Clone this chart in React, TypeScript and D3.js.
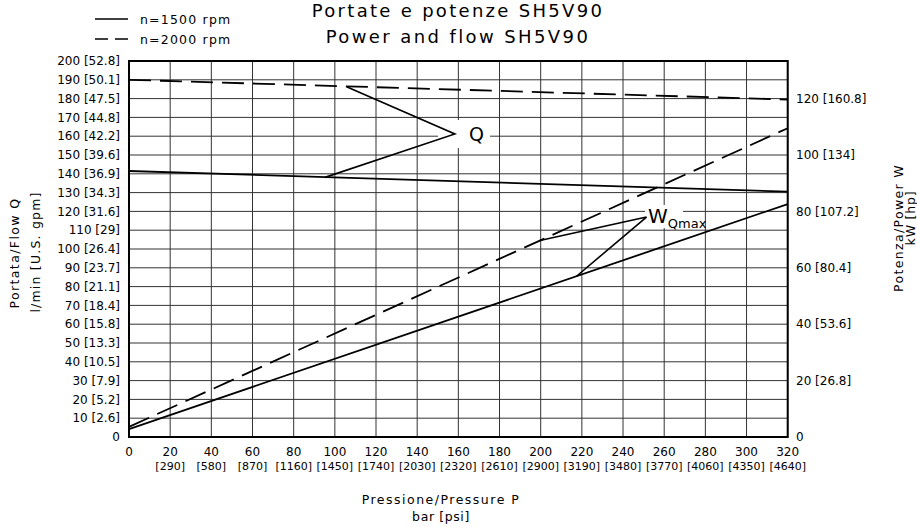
import React from 'react';
import * as d3 from 'd3';

// axis ticks
const pressureTicks = [0, 20, 40, 60, 80, 100, 120, 140, 160, 180, 200, 220, 240, 260, 280, 300, 320];
const psiLabels = ['', '[290]', '[580]', '[870]', '[1160]', '[1450]', '[1740]', '[2030]', '[2320]', '[2610]', '[2900]', '[3190]', '[3480]', '[3770]', '[4060]', '[4350]', '[4640]'];
const flowTicks = [0, 10, 20, 30, 40, 50, 60, 70, 80, 90, 100, 110, 120, 130, 140, 150, 160, 170, 180, 190, 200];
const gpmLabels = ['', '[2.6]', '[5.2]', '[7.9]', '[10.5]', '[13.3]', '[15.8]', '[18.4]', '[21.1]', '[23.7]', '[26.4]', '[29]', '[31.6]', '[34.3]', '[36.9]', '[39.6]', '[42.2]', '[44.8]', '[47.5]', '[50.1]', '[52.8]'];
const powerTicks = [0, 20, 40, 60, 80, 100, 120];
const hpLabels = ['', '[26.8]', '[53.6]', '[80.4]', '[107.2]', '[134]', '[160.8]'];

// curves (bar -> l/min, kW)
const pressure = [0, 320];
const flow1500 = [141.5, 130.5];
const flow2000 = [190, 179.5];
const power1500 = [2.8, 82.6];
const power2000 = [3.6, 109.5];

// leader lines for the labels
const qLeaderP = [105.7, 158.3, 95.2];
const qLeaderQ = [186.3, 161.2, 138.1];
const wLeaderP = [199.6, 251.4, 217.4];
const wLeaderW = [69.7, 78, 57];

const W = 917;
const H = 527;
const font = '"DejaVu Sans", sans-serif';

const App: React.FC = () => {
  const x = d3.scaleLinear().domain([0, 320]).range([129, 787.7]);
  const yQ = d3.scaleLinear().domain([0, 200]).range([437, 61]);
  const yW = d3.scaleLinear().domain([0, 400 / 3]).range([437, 61]);

  const lineQ = d3.line<number>().x((_, i) => x(pressure[i])).y((d) => yQ(d));
  const lineW = d3.line<number>().x((_, i) => x(pressure[i])).y((d) => yW(d));
  const qLeader = d3.line<number>().x((d) => x(d)).y((_, i) => yQ(qLeaderQ[i]))(qLeaderP) || '';
  const wLeader = d3.line<number>().x((d) => x(d)).y((_, i) => yW(wLeaderW[i]))(wLeaderP) || '';

  const [x0, x1] = x.range();
  const [yb, yt] = yQ.range();
  const dash = '22 9';

  return (
    <svg width={W} height={H} style={{ position: 'absolute', left: 0, top: 0, background: '#fff' }} fontFamily={font}>
      {/* title */}
      <text x={458} y={17} textAnchor="middle" fontSize={18} letterSpacing={2.3}>Portate e potenze SH5V90</text>
      <text x={458} y={43} textAnchor="middle" fontSize={18} letterSpacing={2.4}>Power and flow SH5V90</text>

      {/* legend */}
      <line x1={95} x2={128} y1={19} y2={19} stroke="#000" strokeWidth={1.5} />
      <text x={140} y={24} fontSize={12.5} letterSpacing={1.2}>n=1500  rpm</text>
      <line x1={95} x2={128} y1={39} y2={39} stroke="#000" strokeWidth={1.5} strokeDasharray="13 7" />
      <text x={140} y={44} fontSize={12.5} letterSpacing={1.2}>n=2000  rpm</text>

      {/* grid */}
      <g stroke="#333" strokeWidth={1}>
        {pressureTicks.map((p) => (
          <line key={'v' + p} x1={x(p)} x2={x(p)} y1={yt} y2={yb} />
        ))}
        {flowTicks.map((q) => (
          <line key={'h' + q} x1={x0} x2={x1} y1={yQ(q)} y2={yQ(q)} />
        ))}
      </g>

      {/* curves */}
      <g fill="none" stroke="#000" strokeWidth={1.8}>
        <path d={lineQ(flow1500) || ''} />
        <path d={lineQ(flow2000) || ''} strokeDasharray={dash} />
        <path d={lineW(power1500) || ''} />
        <path d={lineW(power2000) || ''} strokeDasharray={dash} />
      </g>

      {/* label masks */}
      <rect x={438} y={120} width={52} height={28} fill="#fff" />
      <rect x={645} y={205} width={38} height={23} fill="#fff" />

      <g fill="none" stroke="#000" strokeWidth={1.6}>
        <path d={qLeader} />
        <path d={wLeader} />
      </g>
      <text x={476.5} y={141} textAnchor="middle" fontSize={19}>Q</text>
      <text x={648} y={223} fontSize={20}>
        W<tspan fontSize={13} dy={5}>Qmax</tspan>
      </text>

      {/* frame */}
      <rect x={x0} y={yt} width={x1 - x0} height={yb - yt} fill="none" stroke="#000" strokeWidth={2} />

      {/* left axis labels */}
      <g fontSize={12} textAnchor="end">
        {flowTicks.map((q, i) => (
          <text key={'l' + q} x={120} y={yQ(q)} dy="0.35em">
            {gpmLabels[i] ? `${q} ${gpmLabels[i]}` : `${q}`}
          </text>
        ))}
      </g>

      {/* right axis labels */}
      <g fontSize={12}>
        {powerTicks.map((w, i) => (
          <text key={'r' + w} x={796} y={yW(w)} dy="0.35em">
            {hpLabels[i] ? `${w} ${hpLabels[i]}` : `${w}`}
          </text>
        ))}
      </g>

      {/* bottom axis labels */}
      <g textAnchor="middle">
        {pressureTicks.map((p, i) => (
          <g key={'b' + p}>
            <text x={x(p)} y={452} dy="0.35em" fontSize={12}>{p}</text>
            {psiLabels[i] && <text x={x(p)} y={466} dy="0.35em" fontSize={11}>{psiLabels[i]}</text>}
          </g>
        ))}
      </g>

      {/* axis titles */}
      <text x={441} y={504} textAnchor="middle" fontSize={12.5} letterSpacing={1.5}>Pressione/Pressure P</text>
      <text x={441} y={521} textAnchor="middle" fontSize={12.5} letterSpacing={0.6}>bar [psi]</text>

      <text transform="translate(19,253) rotate(-90)" textAnchor="middle" fontSize={12.5} letterSpacing={1.4}>Portata/Flow Q</text>
      <text transform="translate(40,252) rotate(-90)" textAnchor="middle" fontSize={12.5} letterSpacing={1.2}>l/min [U.S. gpm]</text>

      <text transform="translate(903,228) rotate(-90)" textAnchor="middle" fontSize={12.5} letterSpacing={1.35}>Potenza/Power W</text>
      <text transform="translate(915,218) rotate(-90)" textAnchor="middle" fontSize={12.5} letterSpacing={0.8}>kW [hp]</text>
    </svg>
  );
};

export default App;
